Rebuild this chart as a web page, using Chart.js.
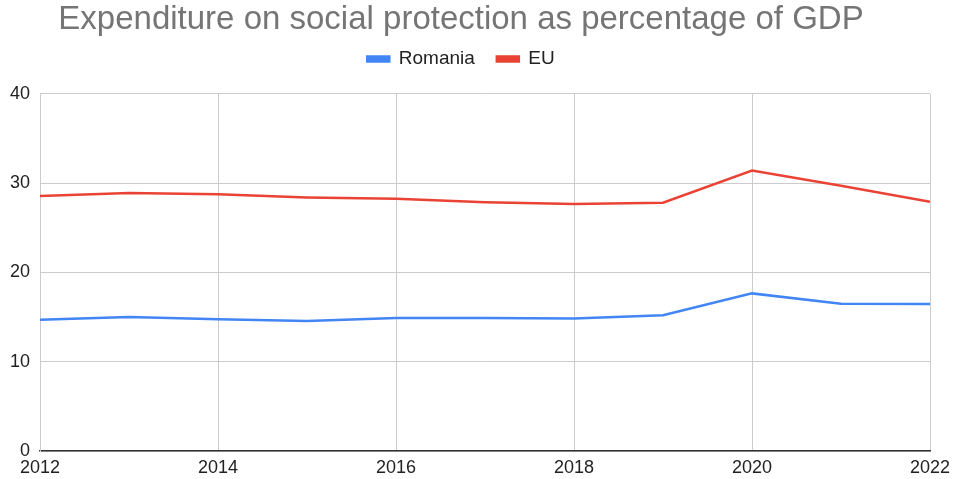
<!DOCTYPE html>
<html>
<head>
<meta charset="utf-8">
<script src="https://cdn.jsdelivr.net/npm/chart.js@4"></script>
<style>
  html, body { margin: 0; padding: 0; background: #fff; }
  #wrap { width: 957px; height: 479px; }
</style>
</head>
<body>
<div id="wrap"><canvas id="chart"></canvas></div>
<script>
// data
const years = [2012, 2013, 2014, 2015, 2016, 2017, 2018, 2019, 2020, 2021, 2022];
const romania = [14.7, 15.0, 14.75, 14.55, 14.9, 14.9, 14.85, 15.2, 17.65, 16.5, 16.45];
const eu = [28.55, 28.9, 28.75, 28.4, 28.25, 27.85, 27.65, 27.8, 31.4, 29.7, 27.9];
const yTicks = [0, 10, 20, 30, 40];

const toPoints = vals => vals.map((v, i) => ({ x: years[i], y: v }));
const tickFont = { family: 'Liberation Sans, Arial', size: 18 };

// title and legend sit a little left of the plot centre in the original
const shiftTop = {
  id: 'shiftTop',
  afterLayout(chart) {
    [chart.titleBlock, chart.legend].forEach(b => {
      if (!b) return;
      b.left -= 4;
      b.right -= 4;
    });
  }
};

const ctx = document.getElementById('chart').getContext('2d');

new Chart(ctx, {
  type: 'line',
  data: {
    datasets: [
      {
        label: 'Romania',
        data: toPoints(romania),
        borderColor: '#4285f4',
        backgroundColor: '#4285f4',
        borderWidth: 2.5,
        pointRadius: 0,
        tension: 0
      },
      {
        label: 'EU',
        data: toPoints(eu),
        borderColor: '#ea4335',
        backgroundColor: '#ea4335',
        borderWidth: 2.5,
        pointRadius: 0,
        tension: 0
      }
    ]
  },
  options: {
    responsive: true,
    maintainAspectRatio: false,
    animation: false,
    layout: { padding: { left: 0, right: 27, top: 0, bottom: 0 } },
    plugins: {
      title: {
        display: true,
        text: 'Expenditure on social protection as percentage of GDP',
        color: '#757575',
        font: { family: 'Liberation Sans, Arial', size: 33, weight: 'normal' },
        padding: { top: 0, bottom: -12 }
      },
      legend: {
        weight: 1600,
        labels: {
          color: '#222',
          font: { family: 'Liberation Sans, Arial', size: 19 },
          boxWidth: 22,
          boxHeight: 5,
          padding: 22
        }
      },
      // empty subtitle used as a gap between legend and plot
      subtitle: {
        display: true,
        text: '',
        font: { size: 1 },
        padding: { top: 0, bottom: 14 }
      },
      tooltip: { enabled: false }
    },
    scales: {
      x: {
        type: 'linear',
        min: years[0],
        max: years[years.length - 1],
        afterFit: s => { s.height = 28; },
        ticks: {
          stepSize: 2,
          color: '#222',
          font: tickFont,
          maxRotation: 0,
          padding: 6,
          callback: v => String(v)
        },
        grid: { color: '#cccccc', drawTicks: false },
        border: { color: '#333', width: 1.5 }
      },
      y: {
        min: yTicks[0],
        max: yTicks[yTicks.length - 1],
        afterBuildTicks: s => { s.ticks = yTicks.map(v => ({ value: v })); },
        afterFit: s => { s.width = 40; },
        ticks: {
          color: '#222',
          font: tickFont,
          padding: 10
        },
        grid: { color: '#cccccc', drawTicks: false },
        border: { color: '#cccccc' }
      }
    }
  },
  plugins: [shiftTop]
});
</script>
</body>
</html>
